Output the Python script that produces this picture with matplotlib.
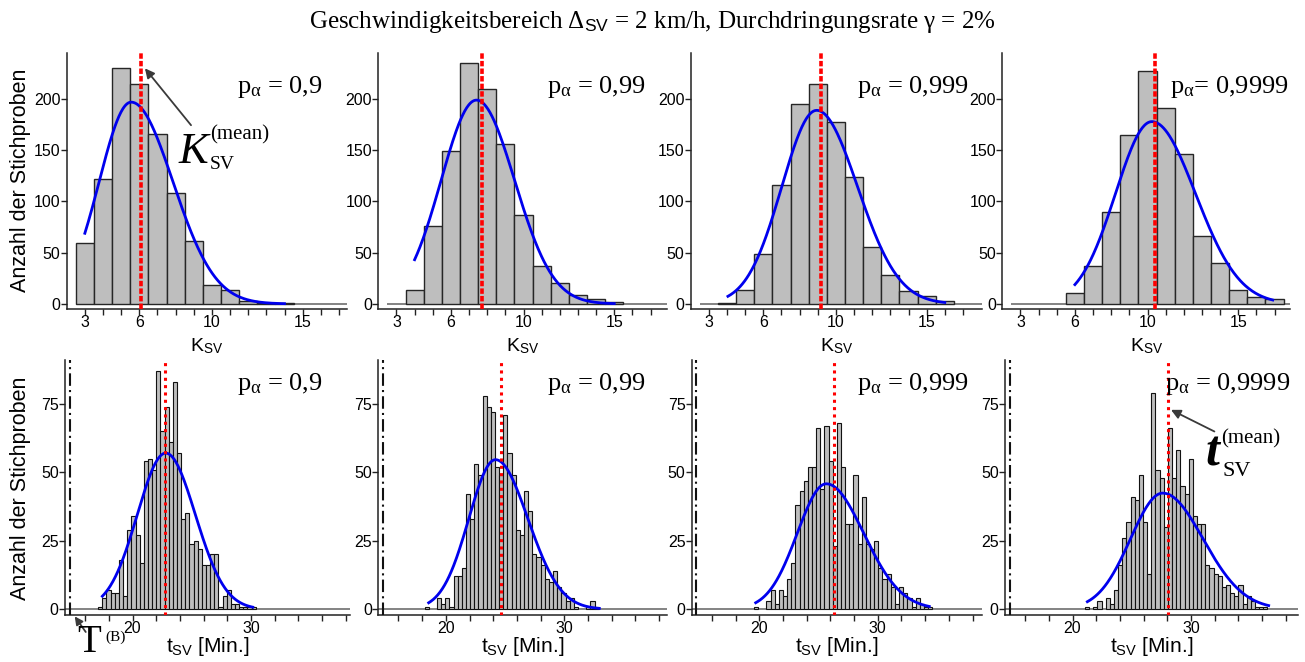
import numpy as np
import matplotlib
matplotlib.use('Agg')
import matplotlib.pyplot as plt

plt.rcParams['font.family'] = ['Liberation Sans', 'DejaVu Sans']
plt.rcParams['mathtext.fontset'] = 'custom'
plt.rcParams['mathtext.rm'] = 'Liberation Serif'
plt.rcParams['mathtext.it'] = 'Liberation Serif:italic'
plt.rcParams['mathtext.sf'] = 'Liberation Sans'

W, H = 1305, 662
SERIF = ['Liberation Serif', 'DejaVu Serif']

p_alpha = ['= 0,9', '= 0,99', '= 0,999', '= 0,9999']

# K_SV: one bin per integer 3..17
k_bins = np.arange(3, 18)
k_counts = [
    [59, 122, 230, 215, 166, 108, 61, 18, 14, 3, 1, 1, 0, 0, 0],
    [0, 14, 76, 149, 235, 210, 156, 87, 37, 20, 9, 5, 2, 0, 0],
    [0, 1, 14, 49, 116, 195, 215, 178, 124, 56, 28, 13, 8, 3, 0],
    [0, 0, 0, 11, 37, 90, 165, 227, 191, 146, 66, 40, 14, 7, 5],
]
k_mean = [6.08, 7.74, 9.2, 10.44]
# fitted density: mode, peak, sd left, sd right, from, to
k_fit = [
    (5.55, 197, 1.76, 2.30, 3.0, 14.0),
    (7.41, 199, 1.95, 2.10, 4.0, 15.0),
    (8.94, 189, 1.92, 2.25, 4.05, 16.0),
    (10.24, 178, 2.00, 2.40, 6.0, 16.9),
]

# t_SV in minutes, bins of 0.35 min starting at t_start
t_width = 0.35
t_start = [17.1, 18.2, 19.55, 21.05]
t_counts = [
    [1, 4, 7, 6, 6, 18, 5, 29, 34, 27, 17, 54, 55, 51, 87, 65, 74, 61, 83, 57,
     33, 35, 24, 25, 22, 16, 16, 20, 20, 1, 5, 7, 2, 2, 1, 1, 1, 1],
    [1, 0, 0, 4, 2, 4, 1, 12, 12, 15, 42, 33, 53, 49, 78, 74, 72, 52, 49, 71,
     57, 49, 29, 27, 43, 36, 20, 19, 16, 11, 10, 14, 8, 6, 3, 4, 1, 0, 0, 1, 3, 1],
    [1, 0, 0, 3, 7, 2, 7, 5, 11, 17, 38, 43, 47, 52, 52, 66, 44, 67, 54, 23,
     68, 52, 31, 31, 49, 24, 41, 24, 22, 25, 15, 11, 13, 8, 2, 8, 6, 4, 1, 4, 2, 1, 1],
    [1, 0, 1, 3, 0, 4, 2, 7, 16, 26, 32, 41, 40, 49, 32, 13, 79, 51, 48, 30,
     66, 48, 58, 45, 42, 55, 34, 31, 31, 16, 15, 13, 12, 8, 9, 6, 5, 9, 2, 5, 3, 1, 1, 1],
]
t_mean = [22.76, 24.67, 26.28, 28.08]
t_fit = [
    (22.80, 57.0, 2.40, 2.50, 17.45, 30.15),
    (24.19, 54.6, 2.25, 2.73, 18.55, 32.95),
    (25.66, 45.8, 2.45, 3.15, 19.70, 34.35),
    (27.61, 42.4, 2.72, 3.40, 21.25, 36.55),
]
t_b = 14.7

BAR = '#bebebe'
EDGE = '#262626'
BLUE = '#0000ee'
RED = '#ff0000'


def split_normal(x, mode, peak, sl, sr):
    s = np.where(x < mode, sl, sr)
    return peak * np.exp(-0.5 * ((x - mode) / s) ** 2)


def fxy(x, y):
    return x / W, 1 - y / H


def add_axes(left, right, top, bottom):
    return fig.add_axes([left / W, 1 - bottom / H, (right - left) / W, (bottom - top) / H])


def style(ax):
    for s in ['top', 'right']:
        ax.spines[s].set_visible(False)
    for s in ['left', 'bottom']:
        ax.spines[s].set_color('#222222')
        ax.spines[s].set_linewidth(1.1)
    ax.tick_params(which='both', direction='out', length=4, width=1,
                   color='#222222', labelsize=11.5, pad=0.5)
    ax.patch.set_alpha(0)


fig = plt.figure(figsize=(W / 100, H / 100), dpi=100)

top_box = [(66.7, 347), (378.3, 667), (690.7, 982), (1002.3, 1290)]
bot_box = [(65, 350), (378.3, 667), (691.7, 982), (1005, 1298)]
p_top = [237, 547, 857, 1170]
p_bot = [237, 547, 857, 1165]
alpha_sub = 'p$_{\\mathrm{\\alpha}}$'

# upper row: K_SV
for i, (l, r) in enumerate(top_box):
    ax = add_axes(l, r, 53, 309)
    style(ax)
    xr = 2 + (r - l) / 18.15
    ax.set_xlim(2, xr)
    ax.set_ylim(-5, 245)
    counts = np.array(k_counts[i])
    keep = counts > 0
    ax.hlines(0, 2.5, xr, color='#6e6e6e', lw=1.2, zorder=1)
    ax.bar(k_bins[keep], counts[keep], width=1, color=BAR, edgecolor=EDGE,
           linewidth=1, zorder=2)
    mode, peak, sl, sr, lo, hi = k_fit[i]
    xs = np.linspace(lo, hi, 300)
    ax.plot(xs, split_normal(xs, mode, peak, sl, sr), color=BLUE, lw=2, zorder=3)
    ax.axvline(k_mean[i], color=RED, lw=2.6, ls=(0, (1.5, 0.6)), zorder=4)
    ax.set_xticks([3, 6, 10, 15])
    ax.set_xticks(np.arange(3, 18), minor=True)
    ax.set_yticks([0, 50, 100, 150, 200])
    x0, y0 = fxy(p_top[i], 93)
    fig.text(x0, y0, alpha_sub + ('' if i == 3 else ' ') + p_alpha[i],
             family=SERIF, fontsize=19, va='baseline', ha='left')
    cx, cy = fxy((l + r) / 2, 346)
    fig.text(cx, cy, 'K$_{\\mathsf{SV}}$', fontsize=14, ha='center', va='center')
    if i == 0:
        ax.annotate('', xy=(k_mean[i] + 0.23, 230), xytext=(8.85, 174.5),
                    arrowprops=dict(arrowstyle='-|>', color='#3a3a3a', lw=1.3,
                                    mutation_scale=14, shrinkA=0, shrinkB=0))

# lower row: t_SV
for i, (l, r) in enumerate(bot_box):
    ax = add_axes(l, r, 360, 615)
    style(ax)
    xr = 14.3 + (r - l) / 11.85
    ax.set_xlim(14.3, xr)
    ax.set_ylim(-2.1, 91)
    counts = np.array(t_counts[i])
    edges = t_start[i] + t_width * np.arange(len(counts))
    keep = counts > 0
    ax.hlines(0, 14.3, xr, color='#6e6e6e', lw=1.2, zorder=1)
    ax.bar(edges[keep], counts[keep], width=t_width, align='edge', color=BAR,
           edgecolor='#111111', linewidth=0.8, zorder=2)
    mode, peak, sl, sr, lo, hi = t_fit[i]
    xs = np.linspace(lo, hi, 300)
    ax.plot(xs, split_normal(xs, mode, peak, sl, sr), color=BLUE, lw=2, zorder=3)
    ax.axvline(t_mean[i], color=RED, lw=2.2, ls=(0, (1, 1.4)), zorder=4)
    ax.axvline(t_b, color='#111111', lw=1.5, ls=(0, (6, 2, 1, 2)), zorder=4)
    ax.set_xticks([20, 30])
    ax.set_xticks(np.arange(16, 39, 2), minor=True)
    ax.set_yticks([0, 25, 50, 75])
    x0, y0 = fxy(p_bot[i], 390)
    fig.text(x0, y0, alpha_sub + ' ' + p_alpha[i],
             family=SERIF, fontsize=19, va='baseline', ha='left')
    cx, cy = fxy((l + r) / 2, 647)
    fig.text(cx, cy, 't$_{\\mathsf{SV}}$ [Min.]', fontsize=15, ha='center', va='center')
    if i == 0:
        ax.annotate('', xy=(t_b + 0.42, -2.6), xytext=(16.05, -8.3),
                    annotation_clip=False,
                    arrowprops=dict(arrowstyle='-|>', color='#3a3a3a', lw=1.3,
                                    mutation_scale=12, shrinkA=0, shrinkB=0))
    if i == 3:
        ax.annotate('', xy=(t_mean[i] + 0.23, 72.8), xytext=(31.97, 64.9),
                    arrowprops=dict(arrowstyle='-|>', color='#3a3a3a', lw=1.3,
                                    mutation_scale=14, shrinkA=0, shrinkB=0))

# y axis titles
for yc in (180, 488):
    x0, y0 = fxy(21, yc)
    fig.text(x0, y0, 'Anzahl der Stichproben', fontsize=15.5, rotation=90,
             ha='center', va='center')

# mean symbols
x0, y0 = fxy(179, 163)
fig.text(x0, y0, 'K', family=SERIF, style='italic', fontsize=32, va='baseline')
x0, y0 = fxy(210, 139)
fig.text(x0, y0, '(mean)', family=SERIF, fontsize=15, va='baseline')
x0, y0 = fxy(210, 169)
fig.text(x0, y0, 'SV', family=SERIF, fontsize=14, va='baseline')

x0, y0 = fxy(1205, 466)
fig.text(x0, y0, 't', family=SERIF, style='italic', weight='bold', fontsize=36, va='baseline')
x0, y0 = fxy(1221, 443)
fig.text(x0, y0, '(mean)', family=SERIF, fontsize=15, va='baseline')
x0, y0 = fxy(1222, 476)
fig.text(x0, y0, 'SV', family=SERIF, fontsize=16, va='baseline')

x0, y0 = fxy(77, 661)
fig.text(x0, y0, 'T', family=SERIF, fontsize=28, va='bottom')
x0, y0 = fxy(105, 641)
fig.text(x0, y0, '(B)', family=SERIF, fontsize=11, va='baseline')

x0, y0 = fxy(652, 22)
fig.text(x0, y0, 'Geschwindigkeitsbereich \u0394$_{\\mathsf{SV}}$ = 2 km/h, '
         'Durchdringungsrate \u03b3 = 2%', family=SERIF, fontsize=18,
         ha='center', va='center')

fig.savefig('out.png', dpi=100)
